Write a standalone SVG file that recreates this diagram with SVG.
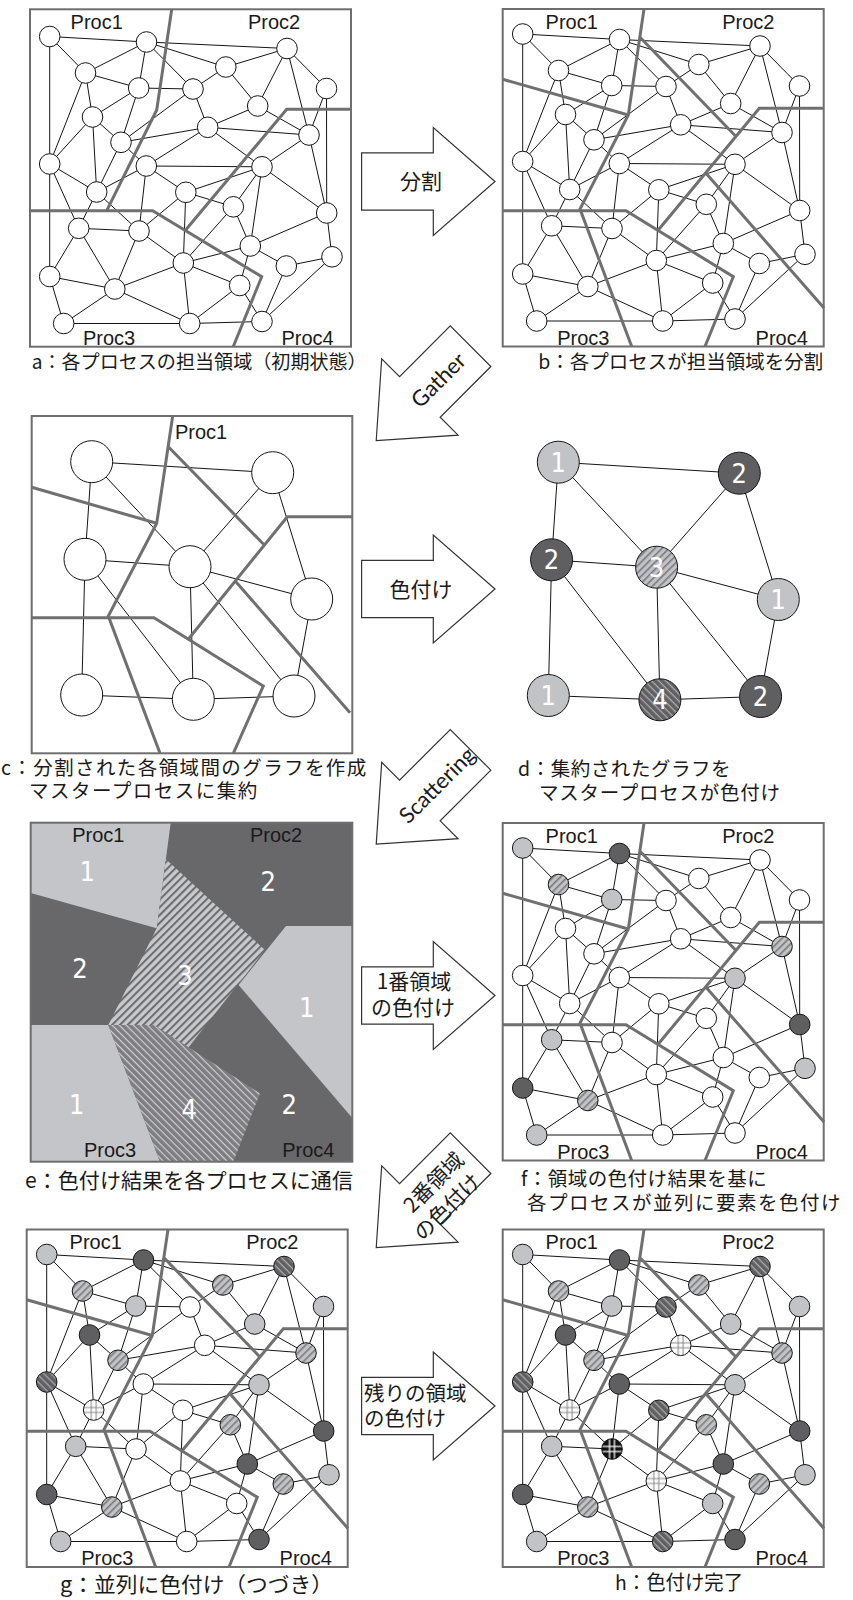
<svg xmlns="http://www.w3.org/2000/svg" xmlns:xlink="http://www.w3.org/1999/xlink" width="853" height="1600" viewBox="0 0 853 1600">
<style>
.fr{fill:none;stroke:#6e6e6e;stroke-width:2}
.pl{fill:none;stroke:#707070;stroke-width:3;stroke-linejoin:miter}
.ed{fill:none;stroke:#151515;stroke-width:1}
.nd circle{stroke:#151515;stroke-width:1}
.w{fill:#fff}.l{fill:#c2c3c7}.d{fill:#5f5f62}.hl{fill:url(#hl)}.hd{fill:url(#hd)}.gw{fill:url(#gw)}.gb{fill:url(#gb)}
.pr{font-family:"Liberation Sans",Arial,sans-serif;font-size:20px;fill:#1a1a1a;text-anchor:middle}
.cap{font-family:"Noto Sans CJK JP","Liberation Sans",sans-serif;fill:#1a1a1a}
.ar{fill:#fff;stroke:#333;stroke-width:1.2}
.al{font-family:"Noto Sans CJK JP",sans-serif;font-size:21px;fill:#1a1a1a}
.en{font-family:Lato,"Open Sans",sans-serif;font-size:22px;fill:#1a1a1a;text-anchor:middle}
.num{font-family:"Liberation Sans Narrow","DejaVu Sans Condensed","Liberation Sans",sans-serif;font-size:27px;fill:#fff;text-anchor:middle}
</style>
<defs>
<pattern id="hl" width="5" height="5" patternUnits="userSpaceOnUse" patternTransform="rotate(-45)"><rect width="5" height="5" fill="#c2c3c7"/><rect width="5" height="1.6" fill="#7b7b7e"/></pattern>
<pattern id="hd" width="5" height="5" patternUnits="userSpaceOnUse" patternTransform="rotate(45)"><rect width="5" height="5" fill="#606063"/><rect width="5" height="1.3" fill="#a9a9ad"/></pattern>
<pattern id="e3" width="5.5" height="5.5" patternUnits="userSpaceOnUse" patternTransform="rotate(-45)"><rect width="5.5" height="5.5" fill="#c8c9cd"/><rect width="5.5" height="2" fill="#6b6b6e"/></pattern>
<pattern id="e4" width="5" height="5" patternUnits="userSpaceOnUse" patternTransform="rotate(45)"><rect width="5" height="5" fill="#7e7e82"/><rect width="5" height="1.2" fill="#d0d0d2"/></pattern>
<pattern id="gw" patternContentUnits="objectBoundingBox" width="1" height="1"><rect width="1" height="1" fill="#fff"/><path d="M0.38 0V1M0.62 0V1M0 0.38H1M0 0.62H1" stroke="#8a8a8a" stroke-width="0.05"/></pattern>
<pattern id="gb" patternContentUnits="objectBoundingBox" width="1" height="1"><rect width="1" height="1" fill="#111"/><path d="M0.38 0V1M0.62 0V1M0 0.38H1M0 0.62H1" stroke="#fff" stroke-width="0.06"/></pattern>
<polygon id="arr" points="-66.7,-28.7 5,-28.7 5,-54 66.7,0 5,54 5,28.7 -66.7,28.7"/>
<path id="edges" d="M522.7 34L619.5 39.5M522.7 34L558.5 70.5M522.7 34L522.7 161.5M619.5 39.5L760 46M619.5 39.5L558.5 70.5M619.5 39.5L698.8 64.5M619.5 39.5L611.7 85.5M619.5 39.5L666 86.5M760 46L698.8 64.5M760 46L799.5 86M760 46L730.7 103.5M760 46L782 132.5M558.5 70.5L611.7 85.5M558.5 70.5L565.5 114.5M558.5 70.5L522.7 161.5M698.8 64.5L666 86.5M698.8 64.5L730.7 103.5M611.7 85.5L666 86.5M611.7 85.5L565.5 114.5M611.7 85.5L594 139.8M666 86.5L680.7 124.8M666 86.5L594 139.8M799.5 86L782 132.5M799.5 86L799.7 210.5M730.7 103.5L680.7 124.8M730.7 103.5L782 132.5M565.5 114.5L594 139.8M565.5 114.5L522.7 161.5M565.5 114.5L569.7 189.5M680.7 124.8L782 132.5M680.7 124.8L594 139.8M680.7 124.8L619.3 163.5M680.7 124.8L735 164.3M782 132.5L735 164.3M782 132.5L799.7 210.5M594 139.8L569.7 189.5M594 139.8L619.3 163.5M522.7 161.5L569.7 189.5M522.7 161.5L551.7 225.8M522.7 161.5L522.7 274M619.3 163.5L735 164.3M619.3 163.5L658.8 189.8M619.3 163.5L569.7 189.5M619.3 163.5L612 228.5M735 164.3L658.8 189.8M735 164.3L706.3 204.3M735 164.3L799.7 210.5M735 164.3L723.3 243.5M658.8 189.8L706.3 204.3M658.8 189.8L612 228.5M658.8 189.8L656.3 260.5M569.7 189.5L551.7 225.8M569.7 189.5L612 228.5M706.3 204.3L723.3 243.5M706.3 204.3L656.3 260.5M799.7 210.5L723.3 243.5M799.7 210.5L805 254.3M551.7 225.8L612 228.5M551.7 225.8L522.7 274M551.7 225.8L587.8 286.5M612 228.5L656.3 260.5M612 228.5L587.8 286.5M723.3 243.5L656.3 260.5M723.3 243.5L759.3 263.5M723.3 243.5L712.7 283M656.3 260.5L587.8 286.5M656.3 260.5L712.7 283M656.3 260.5L662.7 321M805 254.3L759.3 263.5M805 254.3L735 319M759.3 263.5L735 319M522.7 274L587.8 286.5M522.7 274L536.7 321M587.8 286.5L536.7 321M587.8 286.5L662.7 321M712.7 283L662.7 321M712.7 283L735 319M536.7 321L662.7 321M662.7 321L735 319"/>
<path id="cedges" d="M91.7 461.7L272.7 472.7M91.7 461.7L85 559.3M91.7 461.7L190 566.7M272.7 472.7L190 566.7M272.7 472.7L311.7 599M85 559.3L190 566.7M85 559.3L81.7 695M85 559.3L193.3 699.3M190 566.7L311.7 599M190 566.7L193.3 699.3M190 566.7L294 696M311.7 599L294 696M81.7 695L193.3 699.3M193.3 699.3L294 696"/>
<path id="part" d="M644 9L628.3 115L580 209L631.7 346.5M502.7 79.3L628.3 115M640 37.3L735.5 136M502.7 210.7L626 210.7L733.3 276.7L705 346.5M824 108.3L759.3 108.3L658.3 230M706 173.3L824 308"/>
<g id="plabels">
<text class="pr" x="571.7" y="28.5">Proc1</text><text class="pr" x="748.3" y="28.5">Proc2</text><text class="pr" x="583.3" y="344.5">Proc3</text><text class="pr" x="781.7" y="344.5">Proc4</text>
</g>
</defs>
<rect width="853" height="1600" fill="#fff"/>

<g id="connectors" class="ed">
<use xlink:href="#edges" href="#edges" transform="translate(-473,2.5)"/>
<use xlink:href="#edges" href="#edges"/>
<use xlink:href="#edges" href="#edges" transform="translate(0,814)"/>
<use xlink:href="#edges" href="#edges" transform="translate(-476,1220.5)"/>
<use xlink:href="#edges" href="#edges" transform="translate(0,1220.5)"/>
<use xlink:href="#cedges" href="#cedges"/>
<use xlink:href="#cedges" href="#cedges" transform="translate(466.6,0.5)"/>
</g>

<g id="panel-a">
<rect class="fr" x="30" y="9.3" width="321" height="337.4"/>
<path class="pl" d="M171.7 9.5L156.7 110L106.7 210.7M30 210.7L152.7 210.7L261.7 276.7L233.3 346.5M351 109.3L286.7 109.3L185 230.7"/>
<text class="pr" x="96.7" y="28.5">Proc1</text><text class="pr" x="274" y="28.5">Proc2</text><text class="pr" x="109" y="345">Proc3</text><text class="pr" x="307.5" y="345">Proc4</text>
</g>
<g id="panel-b">
<rect class="fr" x="502.7" y="9" width="321" height="337.5"/>
<use xlink:href="#part" href="#part" class="pl"/>
<use xlink:href="#plabels" href="#plabels"/>
</g>
<g id="panel-f" transform="translate(0,814)">
<rect class="fr" x="502.7" y="9" width="321" height="337.5"/>
<use xlink:href="#part" href="#part" class="pl"/>
<use xlink:href="#plabels" href="#plabels"/>
</g>
<g id="panel-g" transform="translate(-476,1220.5)">
<rect class="fr" x="502.7" y="9" width="321" height="337.5"/>
<use xlink:href="#part" href="#part" class="pl"/>
<use xlink:href="#plabels" href="#plabels"/>
</g>
<g id="panel-h" transform="translate(0,1220.5)">
<rect class="fr" x="502.7" y="9" width="321" height="337.5"/>
<use xlink:href="#part" href="#part" class="pl"/>
<use xlink:href="#plabels" href="#plabels"/>
</g>
<g id="panel-c">
<rect class="fr" x="31.7" y="416" width="320.6" height="337.3"/>
<path class="pl" d="M172.7 416L156.7 523.3L108.3 616L160 753.3M31.7 487.3L156.7 523.3M168.3 446.7L263.3 544M31.7 617.7L154 617.7L263.3 686L233.3 753.3M352.3 516.7L287.3 516.7L188.3 639.3M235 580.7L350 712.7"/>
<text class="pr" x="175" y="438.5" style="text-anchor:start">Proc1</text>
</g>
<g id="panel-e">
<rect x="30.7" y="822.7" width="321.6" height="339" fill="#68686b"/>
<polygon fill="#c4c5c9" points="30.7,822.7 170.7,822.7 156.7,928.3 30.7,893"/>
<polygon fill="#c4c5c9" points="286,926 352.3,926 352.3,1118 238.6,985"/>
<polygon fill="#c4c5c9" points="30.7,1025 108.3,1025 160,1161.7 30.7,1161.7"/>
<polygon fill="url(#e3)" points="165.9,859.3 265,950 188.3,1047.5 154,1025 108.3,1025 156.7,928.3"/>
<polygon fill="url(#e4)" points="108.3,1025 154,1025 260,1093.3 233.3,1161.7 160,1161.7"/>
<rect class="fr" x="30.7" y="822.7" width="321.6" height="339"/>
<text class="pr" x="98.3" y="842">Proc1</text><text class="pr" x="276" y="842">Proc2</text><text class="pr" x="110" y="1157">Proc3</text><text class="pr" x="308.3" y="1157">Proc4</text>
<text class="num" x="87.3" y="881">1</text><text class="num" x="268.3" y="891">2</text><text class="num" x="80" y="977.5">2</text><text class="num" x="185" y="985">3</text><text class="num" x="306.7" y="1016.5">1</text><text class="num" x="76.7" y="1114">1</text><text class="num" x="189.3" y="1118.5">4</text><text class="num" x="289.3" y="1114">2</text>
</g>

<g id="nodes-a" class="nd" transform="translate(-473,2.5)">
<g id="a-n1"><circle class="w" cx="522.7" cy="34" r="10.3"/></g><g id="a-n2"><circle class="w" cx="619.5" cy="39.5" r="10.3"/></g><g id="a-n3"><circle class="w" cx="760" cy="46" r="10.3"/></g><g id="a-n4"><circle class="w" cx="558.5" cy="70.5" r="10.3"/></g><g id="a-n5"><circle class="w" cx="698.8" cy="64.5" r="10.3"/></g><g id="a-n6"><circle class="w" cx="611.7" cy="85.5" r="10.3"/></g><g id="a-n7"><circle class="w" cx="666" cy="86.5" r="10.3"/></g><g id="a-n8"><circle class="w" cx="799.5" cy="86" r="10.3"/></g><g id="a-n9"><circle class="w" cx="730.7" cy="103.5" r="10.3"/></g><g id="a-n10"><circle class="w" cx="565.5" cy="114.5" r="10.3"/></g><g id="a-n11"><circle class="w" cx="680.7" cy="124.8" r="10.3"/></g><g id="a-n12"><circle class="w" cx="782" cy="132.5" r="10.3"/></g><g id="a-n13"><circle class="w" cx="594" cy="139.8" r="10.3"/></g><g id="a-n14"><circle class="w" cx="522.7" cy="161.5" r="10.3"/></g><g id="a-n15"><circle class="w" cx="619.3" cy="163.5" r="10.3"/></g><g id="a-n16"><circle class="w" cx="735" cy="164.3" r="10.3"/></g><g id="a-n17"><circle class="w" cx="658.8" cy="189.8" r="10.3"/></g><g id="a-n18"><circle class="w" cx="569.7" cy="189.5" r="10.3"/></g><g id="a-n19"><circle class="w" cx="706.3" cy="204.3" r="10.3"/></g><g id="a-n20"><circle class="w" cx="799.7" cy="210.5" r="10.3"/></g><g id="a-n21"><circle class="w" cx="551.7" cy="225.8" r="10.3"/></g><g id="a-n22"><circle class="w" cx="612" cy="228.5" r="10.3"/></g><g id="a-n23"><circle class="w" cx="723.3" cy="243.5" r="10.3"/></g><g id="a-n24"><circle class="w" cx="656.3" cy="260.5" r="10.3"/></g><g id="a-n25"><circle class="w" cx="805" cy="254.3" r="10.3"/></g><g id="a-n26"><circle class="w" cx="759.3" cy="263.5" r="10.3"/></g><g id="a-n27"><circle class="w" cx="522.7" cy="274" r="10.3"/></g><g id="a-n28"><circle class="w" cx="587.8" cy="286.5" r="10.3"/></g><g id="a-n29"><circle class="w" cx="712.7" cy="283" r="10.3"/></g><g id="a-n30"><circle class="w" cx="536.7" cy="321" r="10.3"/></g><g id="a-n31"><circle class="w" cx="662.7" cy="321" r="10.3"/></g><g id="a-n32"><circle class="w" cx="735" cy="319" r="10.3"/></g>
</g>
<g id="nodes-b" class="nd">
<g id="b-n1"><circle class="w" cx="522.7" cy="34" r="10.3"/></g><g id="b-n2"><circle class="w" cx="619.5" cy="39.5" r="10.3"/></g><g id="b-n3"><circle class="w" cx="760" cy="46" r="10.3"/></g><g id="b-n4"><circle class="w" cx="558.5" cy="70.5" r="10.3"/></g><g id="b-n5"><circle class="w" cx="698.8" cy="64.5" r="10.3"/></g><g id="b-n6"><circle class="w" cx="611.7" cy="85.5" r="10.3"/></g><g id="b-n7"><circle class="w" cx="666" cy="86.5" r="10.3"/></g><g id="b-n8"><circle class="w" cx="799.5" cy="86" r="10.3"/></g><g id="b-n9"><circle class="w" cx="730.7" cy="103.5" r="10.3"/></g><g id="b-n10"><circle class="w" cx="565.5" cy="114.5" r="10.3"/></g><g id="b-n11"><circle class="w" cx="680.7" cy="124.8" r="10.3"/></g><g id="b-n12"><circle class="w" cx="782" cy="132.5" r="10.3"/></g><g id="b-n13"><circle class="w" cx="594" cy="139.8" r="10.3"/></g><g id="b-n14"><circle class="w" cx="522.7" cy="161.5" r="10.3"/></g><g id="b-n15"><circle class="w" cx="619.3" cy="163.5" r="10.3"/></g><g id="b-n16"><circle class="w" cx="735" cy="164.3" r="10.3"/></g><g id="b-n17"><circle class="w" cx="658.8" cy="189.8" r="10.3"/></g><g id="b-n18"><circle class="w" cx="569.7" cy="189.5" r="10.3"/></g><g id="b-n19"><circle class="w" cx="706.3" cy="204.3" r="10.3"/></g><g id="b-n20"><circle class="w" cx="799.7" cy="210.5" r="10.3"/></g><g id="b-n21"><circle class="w" cx="551.7" cy="225.8" r="10.3"/></g><g id="b-n22"><circle class="w" cx="612" cy="228.5" r="10.3"/></g><g id="b-n23"><circle class="w" cx="723.3" cy="243.5" r="10.3"/></g><g id="b-n24"><circle class="w" cx="656.3" cy="260.5" r="10.3"/></g><g id="b-n25"><circle class="w" cx="805" cy="254.3" r="10.3"/></g><g id="b-n26"><circle class="w" cx="759.3" cy="263.5" r="10.3"/></g><g id="b-n27"><circle class="w" cx="522.7" cy="274" r="10.3"/></g><g id="b-n28"><circle class="w" cx="587.8" cy="286.5" r="10.3"/></g><g id="b-n29"><circle class="w" cx="712.7" cy="283" r="10.3"/></g><g id="b-n30"><circle class="w" cx="536.7" cy="321" r="10.3"/></g><g id="b-n31"><circle class="w" cx="662.7" cy="321" r="10.3"/></g><g id="b-n32"><circle class="w" cx="735" cy="319" r="10.3"/></g>
</g>
<g id="nodes-f" class="nd" transform="translate(0,814)">
<g id="f-n1"><circle class="l" cx="522.7" cy="34" r="10.3"/></g><g id="f-n2"><circle class="d" cx="619.5" cy="39.5" r="10.3"/></g><g id="f-n3"><circle class="w" cx="760" cy="46" r="10.3"/></g><g id="f-n4"><circle class="hl" cx="558.5" cy="70.5" r="10.3"/></g><g id="f-n5"><circle class="w" cx="698.8" cy="64.5" r="10.3"/></g><g id="f-n6"><circle class="l" cx="611.7" cy="85.5" r="10.3"/></g><g id="f-n7"><circle class="w" cx="666" cy="86.5" r="10.3"/></g><g id="f-n8"><circle class="w" cx="799.5" cy="86" r="10.3"/></g><g id="f-n9"><circle class="w" cx="730.7" cy="103.5" r="10.3"/></g><g id="f-n10"><circle class="w" cx="565.5" cy="114.5" r="10.3"/></g><g id="f-n11"><circle class="w" cx="680.7" cy="124.8" r="10.3"/></g><g id="f-n12"><circle class="hl" cx="782" cy="132.5" r="10.3"/></g><g id="f-n13"><circle class="w" cx="594" cy="139.8" r="10.3"/></g><g id="f-n14"><circle class="w" cx="522.7" cy="161.5" r="10.3"/></g><g id="f-n15"><circle class="w" cx="619.3" cy="163.5" r="10.3"/></g><g id="f-n16"><circle class="l" cx="735" cy="164.3" r="10.3"/></g><g id="f-n17"><circle class="w" cx="658.8" cy="189.8" r="10.3"/></g><g id="f-n18"><circle class="w" cx="569.7" cy="189.5" r="10.3"/></g><g id="f-n19"><circle class="w" cx="706.3" cy="204.3" r="10.3"/></g><g id="f-n20"><circle class="d" cx="799.7" cy="210.5" r="10.3"/></g><g id="f-n21"><circle class="l" cx="551.7" cy="225.8" r="10.3"/></g><g id="f-n22"><circle class="w" cx="612" cy="228.5" r="10.3"/></g><g id="f-n23"><circle class="w" cx="723.3" cy="243.5" r="10.3"/></g><g id="f-n24"><circle class="w" cx="656.3" cy="260.5" r="10.3"/></g><g id="f-n25"><circle class="l" cx="805" cy="254.3" r="10.3"/></g><g id="f-n26"><circle class="w" cx="759.3" cy="263.5" r="10.3"/></g><g id="f-n27"><circle class="d" cx="522.7" cy="274" r="10.3"/></g><g id="f-n28"><circle class="hl" cx="587.8" cy="286.5" r="10.3"/></g><g id="f-n29"><circle class="w" cx="712.7" cy="283" r="10.3"/></g><g id="f-n30"><circle class="l" cx="536.7" cy="321" r="10.3"/></g><g id="f-n31"><circle class="w" cx="662.7" cy="321" r="10.3"/></g><g id="f-n32"><circle class="w" cx="735" cy="319" r="10.3"/></g>
</g>
<g id="nodes-g" class="nd" transform="translate(-476,1220.5)">
<g id="g-n1"><circle class="l" cx="522.7" cy="34" r="10.3"/></g><g id="g-n2"><circle class="d" cx="619.5" cy="39.5" r="10.3"/></g><g id="g-n3"><circle class="hd" cx="760" cy="46" r="10.3"/></g><g id="g-n4"><circle class="hl" cx="558.5" cy="70.5" r="10.3"/></g><g id="g-n5"><circle class="hl" cx="698.8" cy="64.5" r="10.3"/></g><g id="g-n6"><circle class="l" cx="611.7" cy="85.5" r="10.3"/></g><g id="g-n7"><circle class="w" cx="666" cy="86.5" r="10.3"/></g><g id="g-n8"><circle class="l" cx="799.5" cy="86" r="10.3"/></g><g id="g-n9"><circle class="l" cx="730.7" cy="103.5" r="10.3"/></g><g id="g-n10"><circle class="d" cx="565.5" cy="114.5" r="10.3"/></g><g id="g-n11"><circle class="w" cx="680.7" cy="124.8" r="10.3"/></g><g id="g-n12"><circle class="hl" cx="782" cy="132.5" r="10.3"/></g><g id="g-n13"><circle class="hl" cx="594" cy="139.8" r="10.3"/></g><g id="g-n14"><circle class="hd" cx="522.7" cy="161.5" r="10.3"/></g><g id="g-n15"><circle class="w" cx="619.3" cy="163.5" r="10.3"/></g><g id="g-n16"><circle class="l" cx="735" cy="164.3" r="10.3"/></g><g id="g-n17"><circle class="w" cx="658.8" cy="189.8" r="10.3"/></g><g id="g-n18"><circle class="gw" cx="569.7" cy="189.5" r="10.3"/></g><g id="g-n19"><circle class="hl" cx="706.3" cy="204.3" r="10.3"/></g><g id="g-n20"><circle class="d" cx="799.7" cy="210.5" r="10.3"/></g><g id="g-n21"><circle class="l" cx="551.7" cy="225.8" r="10.3"/></g><g id="g-n22"><circle class="w" cx="612" cy="228.5" r="10.3"/></g><g id="g-n23"><circle class="d" cx="723.3" cy="243.5" r="10.3"/></g><g id="g-n24"><circle class="w" cx="656.3" cy="260.5" r="10.3"/></g><g id="g-n25"><circle class="l" cx="805" cy="254.3" r="10.3"/></g><g id="g-n26"><circle class="hl" cx="759.3" cy="263.5" r="10.3"/></g><g id="g-n27"><circle class="d" cx="522.7" cy="274" r="10.3"/></g><g id="g-n28"><circle class="hl" cx="587.8" cy="286.5" r="10.3"/></g><g id="g-n29"><circle class="w" cx="712.7" cy="283" r="10.3"/></g><g id="g-n30"><circle class="l" cx="536.7" cy="321" r="10.3"/></g><g id="g-n31"><circle class="w" cx="662.7" cy="321" r="10.3"/></g><g id="g-n32"><circle class="d" cx="735" cy="319" r="10.3"/></g>
</g>
<g id="nodes-h" class="nd" transform="translate(0,1220.5)">
<g id="h-n1"><circle class="l" cx="522.7" cy="34" r="10.3"/></g><g id="h-n2"><circle class="d" cx="619.5" cy="39.5" r="10.3"/></g><g id="h-n3"><circle class="hd" cx="760" cy="46" r="10.3"/></g><g id="h-n4"><circle class="hl" cx="558.5" cy="70.5" r="10.3"/></g><g id="h-n5"><circle class="hl" cx="698.8" cy="64.5" r="10.3"/></g><g id="h-n6"><circle class="l" cx="611.7" cy="85.5" r="10.3"/></g><g id="h-n7"><circle class="hd" cx="666" cy="86.5" r="10.3"/></g><g id="h-n8"><circle class="l" cx="799.5" cy="86" r="10.3"/></g><g id="h-n9"><circle class="l" cx="730.7" cy="103.5" r="10.3"/></g><g id="h-n10"><circle class="d" cx="565.5" cy="114.5" r="10.3"/></g><g id="h-n11"><circle class="gw" cx="680.7" cy="124.8" r="10.3"/></g><g id="h-n12"><circle class="hl" cx="782" cy="132.5" r="10.3"/></g><g id="h-n13"><circle class="hl" cx="594" cy="139.8" r="10.3"/></g><g id="h-n14"><circle class="hd" cx="522.7" cy="161.5" r="10.3"/></g><g id="h-n15"><circle class="d" cx="619.3" cy="163.5" r="10.3"/></g><g id="h-n16"><circle class="l" cx="735" cy="164.3" r="10.3"/></g><g id="h-n17"><circle class="hd" cx="658.8" cy="189.8" r="10.3"/></g><g id="h-n18"><circle class="gw" cx="569.7" cy="189.5" r="10.3"/></g><g id="h-n19"><circle class="hl" cx="706.3" cy="204.3" r="10.3"/></g><g id="h-n20"><circle class="d" cx="799.7" cy="210.5" r="10.3"/></g><g id="h-n21"><circle class="l" cx="551.7" cy="225.8" r="10.3"/></g><g id="h-n22"><circle class="gb" cx="612" cy="228.5" r="10.3"/></g><g id="h-n23"><circle class="d" cx="723.3" cy="243.5" r="10.3"/></g><g id="h-n24"><circle class="gw" cx="656.3" cy="260.5" r="10.3"/></g><g id="h-n25"><circle class="l" cx="805" cy="254.3" r="10.3"/></g><g id="h-n26"><circle class="hl" cx="759.3" cy="263.5" r="10.3"/></g><g id="h-n27"><circle class="d" cx="522.7" cy="274" r="10.3"/></g><g id="h-n28"><circle class="hl" cx="587.8" cy="286.5" r="10.3"/></g><g id="h-n29"><circle class="l" cx="712.7" cy="283" r="10.3"/></g><g id="h-n30"><circle class="l" cx="536.7" cy="321" r="10.3"/></g><g id="h-n31"><circle class="hd" cx="662.7" cy="321" r="10.3"/></g><g id="h-n32"><circle class="d" cx="735" cy="319" r="10.3"/></g>
</g>
<g id="nodes-c" class="nd">
<g id="c-n1"><circle class="w" cx="91.7" cy="461.7" r="21"/></g><g id="c-n2"><circle class="w" cx="272.7" cy="472.7" r="21"/></g><g id="c-n3"><circle class="w" cx="85" cy="559.3" r="21"/></g><g id="c-n4"><circle class="w" cx="190" cy="566.7" r="21"/></g><g id="c-n5"><circle class="w" cx="311.7" cy="599" r="21"/></g><g id="c-n6"><circle class="w" cx="81.7" cy="695" r="21"/></g><g id="c-n7"><circle class="w" cx="193.3" cy="699.3" r="21"/></g><g id="c-n8"><circle class="w" cx="294" cy="696" r="21"/></g>
</g>
<g id="nodes-d" class="nd">
<g id="d-n1"><circle class="l" cx="558.3" cy="462.2" r="21"/><text class="num" x="558.3" y="471.7">1</text></g>
<g id="d-n2"><circle class="d" cx="739.3" cy="473.2" r="21"/><text class="num" x="739.3" y="482.7">2</text></g>
<g id="d-n3"><circle class="d" cx="551.6" cy="559.8" r="21"/><text class="num" x="551.6" y="569.3">2</text></g>
<g id="d-n4"><circle class="hl" cx="656.6" cy="567.2" r="21"/><text class="num" x="656.6" y="576.7">3</text></g>
<g id="d-n5"><circle class="l" cx="778.3" cy="599.5" r="21"/><text class="num" x="778.3" y="609">1</text></g>
<g id="d-n6"><circle class="l" cx="548.3" cy="695.5" r="21"/><text class="num" x="548.3" y="705">1</text></g>
<g id="d-n7"><circle class="hd" cx="659.9" cy="699.8" r="21"/><text class="num" x="659.9" y="709.3">4</text></g>
<g id="d-n8"><circle class="d" cx="760.6" cy="696.5" r="21"/><text class="num" x="760.6" y="706">2</text></g>
</g>

<g id="arrow-split"><use xlink:href="#arr" href="#arr" class="ar" transform="translate(428.3,181.5)"/><text class="al" x="421" y="189" text-anchor="middle">分割</text></g>
<g id="arrow-gather"><use xlink:href="#arr" href="#arr" class="ar" transform="translate(423.4,393.4) rotate(135)"/><text class="en" transform="translate(423.4,393.4) rotate(-45)" x="20" y="9">Gather</text></g>
<g id="arrow-color"><use xlink:href="#arr" href="#arr" class="ar" transform="translate(428.3,589)"/><text class="al" x="421" y="597" text-anchor="middle">色付け</text></g>
<g id="arrow-scatter"><use xlink:href="#arr" href="#arr" class="ar" transform="translate(423.4,797) rotate(135)"/><text class="en" transform="translate(423.4,797) rotate(-45)" x="18" y="9">Scattering</text></g>
<g id="arrow-region1"><use xlink:href="#arr" href="#arr" class="ar" transform="translate(428.3,995.5)"/><text class="al" text-anchor="middle"><tspan x="414" y="989">1番領域</tspan><tspan x="413" y="1015">の色付け</tspan></text></g>
<g id="arrow-region2"><use xlink:href="#arr" href="#arr" class="ar" transform="translate(423.4,1200.4) rotate(135)"/><text class="al" text-anchor="middle" transform="translate(423.4,1200.4) rotate(-45)"><tspan x="20" y="2">2番領域</tspan><tspan x="12" y="29">の色付け</tspan></text></g>
<g id="arrow-rest"><use xlink:href="#arr" href="#arr" class="ar" transform="translate(428.3,1406)"/><text class="al" style="font-size:20.5px"><tspan x="364" y="1401">残りの領域</tspan><tspan x="364" y="1426">の色付け</tspan></text></g>

<g id="captions">
<text class="cap" x="31.7" y="368.5" font-size="19" textLength="335" lengthAdjust="spacingAndGlyphs">a：各プロセスの担当領域（初期状態）</text>
<text class="cap" x="538.3" y="369" font-size="19.5" textLength="285" lengthAdjust="spacingAndGlyphs">b：各プロセスが担当領域を分割</text>
<text class="cap" font-size="19.5"><tspan x="1" y="774.5" letter-spacing="1.4">c：分割された各領域間のグラフを作成</tspan><tspan x="29" y="798" letter-spacing="1.5">マスタープロセスに集約</tspan></text>
<text class="cap" font-size="19.5"><tspan x="518" y="776" letter-spacing="0.55">d：集約されたグラフを</tspan><tspan x="539" y="799.5" letter-spacing="0.75">マスタープロセスが色付け</tspan></text>
<text class="cap" x="25" y="1187.5" font-size="21" textLength="328" lengthAdjust="spacingAndGlyphs">e：色付け結果を各プロセスに通信</text>
<text class="cap" font-size="19.5"><tspan x="521" y="1186" letter-spacing="0.45">f：領域の色付け結果を基に</tspan><tspan x="527" y="1209.5" letter-spacing="1.5">各プロセスが並列に要素を色付け</tspan></text>
<text class="cap" x="60" y="1592" font-size="21" textLength="273" lengthAdjust="spacingAndGlyphs">g：並列に色付け（つづき）</text>
<text class="cap" x="615" y="1590" font-size="20" textLength="128" lengthAdjust="spacingAndGlyphs">h：色付け完了</text>
</g>
</svg>
